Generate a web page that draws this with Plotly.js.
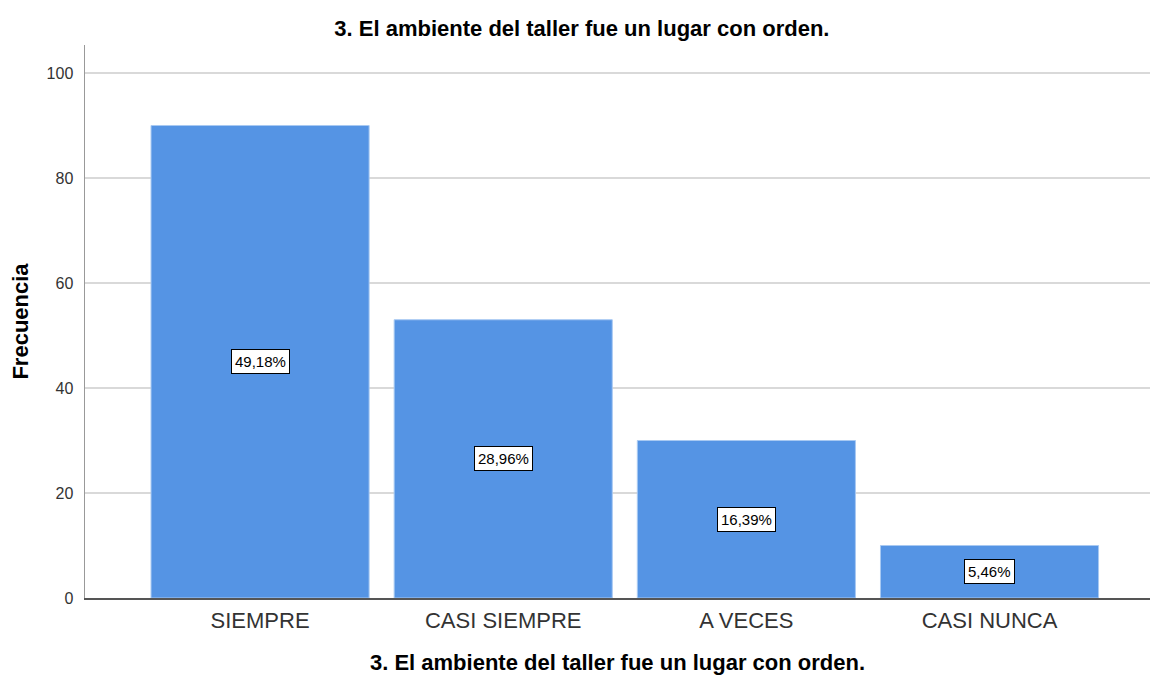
<!DOCTYPE html>
<html>
<head>
<meta charset="utf-8">
<script src="https://cdn.plot.ly/plotly-3.0.1.min.js"></script>
<style>html,body{margin:0;padding:0;background:#fff;}#chart{width:1150px;height:677px;}</style>
</head>
<body>
<div id="chart"></div>
<script>
const categories = ["SIEMPRE", "CASI SIEMPRE", "A VECES", "CASI NUNCA"];
const frequencies = [90, 53, 30, 10];
const percentLabels = ["49,18%", "28,96%", "16,39%", "5,46%"];
const yTicks = [0, 20, 40, 60, 80, 100];
const titleText = "3. El ambiente del taller fue un lugar con orden.";

const FONT = "Liberation Sans, Arial, sans-serif";

const trace = {
  type: "bar",
  x: categories.map((c, i) => i),
  y: frequencies,
  marker: { color: "#5594e4", line: { color: "#a8c9f2", width: 1 } },
  hoverinfo: "skip"
};

const annotations = frequencies.map((v, i) => ({
  x: i, y: v / 2, xref: "x", yref: "y",
  text: percentLabels[i], showarrow: false,
  font: { family: FONT, size: 15, color: "#000" },
  bgcolor: "#ffffff", bordercolor: "#000000", borderwidth: 1, borderpad: 3
}));

const layout = {
  width: 1150, height: 677,
  margin: { l: 85, r: 0, t: 45, b: 79 },
  paper_bgcolor: "#ffffff", plot_bgcolor: "#ffffff",
  bargap: 0.103,
  showlegend: false,
  title: {
    text: "<b>" + titleText + "</b>",
    font: { family: FONT, size: 22, color: "#000" },
    x: 0.506, xref: "container", xanchor: "center",
    y: 0.958, yref: "container", yanchor: "middle"
  },
  xaxis: {
    range: [-0.72, 3.66],
    tickvals: categories.map((c, i) => i),
    ticktext: categories,
    showgrid: false, zeroline: false,
    showline: true, linecolor: "#555555", linewidth: 1.5,
    ticks: "", ticklabelstandoff: 2,
    tickfont: { family: FONT, size: 22, color: "#333333" },
    title: {
      text: "<b>" + titleText + "</b>",
      font: { family: FONT, size: 22, color: "#000" },
      standoff: 22
    },
    fixedrange: true
  },
  yaxis: {
    range: [0, 105.33],
    tickvals: yTicks,
    showgrid: true, gridcolor: "#d9d9d9", gridwidth: 1.5,
    zeroline: false,
    showline: true, linecolor: "#999999", linewidth: 1.5,
    ticks: "", ticklabelstandoff: 7,
    tickfont: { family: FONT, size: 16, color: "#333333" },
    title: {
      text: "<b>Frecuencia</b>",
      font: { family: FONT, size: 22, color: "#000" },
      standoff: 12
    },
    fixedrange: true
  },
  annotations: annotations
};

Plotly.newPlot("chart", [trace], layout, { displayModeBar: false, staticPlot: true });
</script>
</body>
</html>
